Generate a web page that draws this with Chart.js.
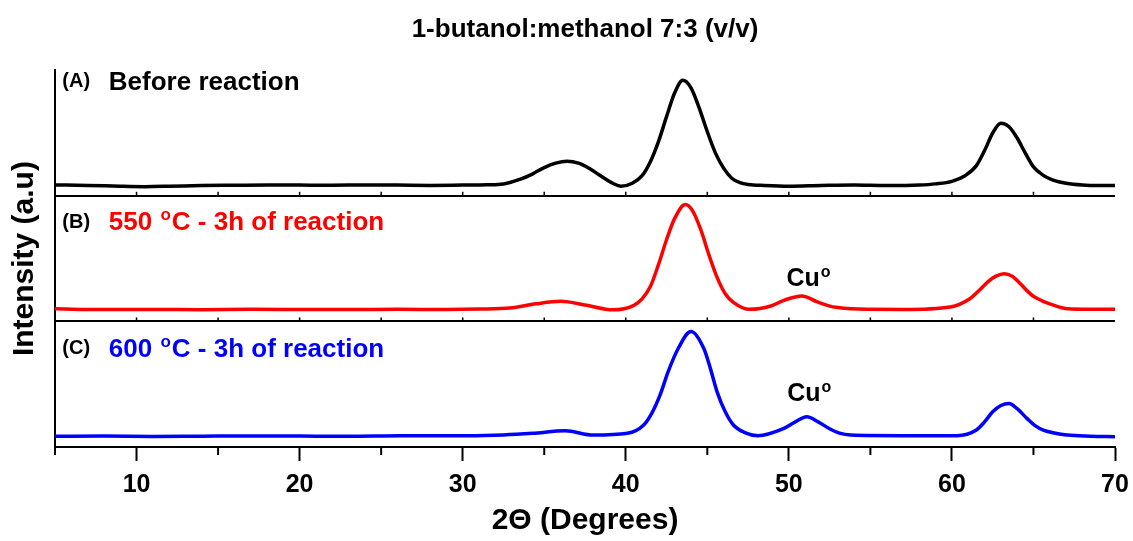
<!DOCTYPE html>
<html>
<head>
<meta charset="utf-8">
<title>XRD 1-butanol:methanol</title>
<script src="https://cdn.jsdelivr.net/npm/chart.js@4/dist/chart.umd.min.js"></script>
<style>
  html, body { margin: 0; padding: 0; background: #fff; }
  #wrap { width: 1133px; height: 541px; position: relative; }
</style>
</head>
<body>
<div id="wrap"><canvas id="xrdChart"></canvas></div>
<script>
// 2-theta positions and intensities (a.u., 0-100 within each panel)
const thetaA = [5, 7, 9, 10.5, 12, 14, 16, 18, 20, 22, 24, 26, 28, 30, 31.5, 32.5, 33.5, 34.3, 35, 35.7,
  36.4, 37.1, 37.8, 38.5, 39.2, 39.7, 40.4, 41, 41.5, 42, 42.5, 43, 43.5, 44, 44.5, 45, 45.5, 46, 46.5, 47, 47.5,
  48.5, 50, 52, 54, 56, 58, 59, 60, 60.8, 61.5, 62, 62.5, 63, 63.5, 64, 64.5, 65, 65.6, 66.2, 67, 68, 69, 70];
const intensityA = [8.6, 8.3, 7.6, 7.3, 7.6, 8.2, 8.4, 8.6, 8.5, 8.4, 8.6, 8.5, 8.3, 8.5, 8.7, 9.4, 13, 17.5, 22.5, 26,
  27.5, 26, 21.5, 15.5, 10, 7.6, 10, 16, 27, 43, 63, 82, 92, 86, 70, 51, 34, 22, 14, 10.5, 9,
  8.2, 7.6, 8.2, 8.6, 8.2, 8.6, 9.5, 11.5, 16, 24, 36, 50, 57.8, 55, 46, 34, 23, 16.3, 12.5, 10, 8.6, 8.2, 8.2];

const thetaB = [5, 8, 11, 14, 17, 20, 23, 26, 29, 31, 32.9, 34.5, 36, 37.6, 39.2, 40.5, 41, 41.5, 42, 42.5,
  43, 43.65, 44.1, 44.6, 45.1, 45.6, 46.1, 46.6, 47.6, 48.9, 49.7, 50.8, 51.75, 52.4, 53, 54.8, 57, 59.9, 61.1, 61.7, 62.2,
  62.7, 63.2, 63.7, 64.2, 64.6, 65, 65.5, 66, 67.1, 68.5, 70];
const intensityB = [10, 9.4, 9.5, 9.3, 9.6, 9.5, 9.4, 9.6, 9.5, 9.8, 10.6, 14, 16, 12.8, 9.2, 12.8, 18, 27.5, 45, 65,
  82, 93, 88, 73, 53, 35, 22, 15.2, 9.6, 12.3, 16.8, 20.3, 15.5, 12.6, 11, 9.6, 9.5, 11.5, 18.1, 25, 31.5,
  36, 38, 36, 30, 24.5, 20, 16.6, 14, 10, 9.6, 9.6];

const thetaC = [5, 8, 11, 14, 17, 20, 23, 26.2, 30.3, 32.5, 34.3, 36.3, 38, 40.1, 41.1, 41.6, 42.1, 42.6, 43.2, 44,
  44.8, 45.2, 45.6, 46.1, 46.6, 47.3, 48.1, 49.7, 50.4, 51.1, 51.8, 52.5, 53.1, 53.8, 57, 60.3, 61.5, 62, 62.5, 63, 63.5, 64, 64.6,
  65.1, 65.6, 67.1, 68.5, 70];
const intensityC = [8.6, 8.7, 8.4, 8.6, 8.8, 8.7, 8.6, 9, 9, 9.6, 10.9, 12.9, 9.5, 10.9, 17.5, 27, 41.3, 60, 78, 92,
  78, 62, 43.9, 28, 17.5, 11.5, 9, 14.8, 20, 24, 20, 14.5, 11, 9.5, 9, 9, 13.5, 20, 28, 33, 34.7, 30.5, 22.8,
  17, 13.5, 9.5, 8.6, 8.2];

const xTicks = [10, 20, 30, 40, 50, 60, 70];

const FONT = "'Liberation Sans', Arial, Helvetica, sans-serif";

function toPoints(xs, ys) {
  return xs.map((x, i) => ({ x: x, y: ys[i] }));
}

// text drawn on the panels
const notes = [
  { axis: "yA", x: 5.45, y: 92, size: 20, color: "#000", parts: ["(A)"] },
  { axis: "yA", x: 8.3, y: 92, size: 26, color: "#000", parts: ["Before reaction"] },
  { axis: "yB", x: 5.45, y: 80, size: 20, color: "#000", parts: ["(B)"] },
  { axis: "yB", x: 8.3, y: 80, size: 26, color: "#ff0000", parts: ["550 ", { sup: "o" }, "C - 3h of reaction"] },
  { axis: "yB", x: 49.85, y: 35, size: 25, color: "#000", parts: ["Cu", { sup: "o" }] },
  { axis: "yC", x: 5.45, y: 79.4, size: 20, color: "#000", parts: ["(C)"] },
  { axis: "yC", x: 8.3, y: 79.4, size: 26, color: "#0000ff", parts: ["600 ", { sup: "o" }, "C - 3h of reaction"] },
  { axis: "yC", x: 49.9, y: 43.7, size: 25, color: "#000", parts: ["Cu", { sup: "o" }] },
];

const notesPlugin = {
  id: "panelNotes",
  afterDraw(chart) {
    const ctx = chart.ctx;
    const xs = chart.scales.x;
    ctx.save();

    // minor ticks under the x axis and small ticks on the panel dividers
    ctx.strokeStyle = "#000";
    ctx.lineWidth = 2;
    const axisY = xs.top;
    for (let v = 5; v < 70; v += 10) {
      const px = xs.getPixelForValue(v);
      ctx.beginPath();
      ctx.moveTo(px, axisY);
      ctx.lineTo(px, axisY + 8);
      ctx.stroke();
    }
    ctx.lineWidth = 1.5;
    ["yB", "yC"].forEach((id) => {
      const yPix = chart.scales[id].getPixelForValue(100);
      for (let v = 10; v < 70; v += 5) {
        const px = xs.getPixelForValue(v);
        ctx.beginPath();
        ctx.moveTo(px, yPix);
        ctx.lineTo(px, yPix - 4);
        ctx.stroke();
      }
    });

    ctx.textBaseline = "alphabetic";
    ctx.textAlign = "left";
    notes.forEach((n) => {
      let px = xs.getPixelForValue(n.x);
      const cy = chart.scales[n.axis].getPixelForValue(n.y);
      const base = cy + n.size * 0.36;
      ctx.fillStyle = n.color;
      n.parts.forEach((p) => {
        if (typeof p === "string") {
          ctx.font = "bold " + n.size + "px " + FONT;
          ctx.fillText(p, px, base);
          px += ctx.measureText(p).width;
        } else {
          const s = Math.round(n.size * 0.64);
          ctx.font = "bold " + s + "px " + FONT;
          ctx.fillText(p.sup, px + 1, base - n.size * 0.38);
          px += ctx.measureText(p.sup).width + 2;
        }
      });
    });

    // y axis title, spanning all three panels
    const area = chart.chartArea;
    ctx.translate(25, (area.top + area.bottom) / 2);
    ctx.rotate(-Math.PI / 2);
    ctx.font = "bold 30px " + FONT;
    ctx.fillStyle = "#000";
    ctx.textAlign = "center";
    ctx.textBaseline = "middle";
    ctx.fillText("Intensity (a.u)", 0, 0);
    ctx.restore();
  },
};

function panelScale(weight, divider) {
  return {
    type: "linear",
    position: "left",
    stack: "xrd",
    stackWeight: 1,
    weight: weight,
    min: 0,
    max: 100,
    ticks: { display: false, stepSize: 100 },
    grid: {
      drawTicks: false,
      lineWidth: 2,
      color: (c) => (divider && c.tick && c.tick.value === 100 ? "#000" : "rgba(0,0,0,0)"),
    },
    border: { color: "#000", width: 2 },
    afterFit: (s) => {
      s.width = 55;
    },
  };
}

const ctx = document.getElementById("xrdChart").getContext("2d");
new Chart(ctx, {
  type: "line",
  data: {
    datasets: [
      { label: "Before reaction", data: toPoints(thetaA, intensityA), borderColor: "#000000", yAxisID: "yA" },
      { label: "550 oC - 3h of reaction", data: toPoints(thetaB, intensityB), borderColor: "#ff0000", yAxisID: "yB" },
      { label: "600 oC - 3h of reaction", data: toPoints(thetaC, intensityC), borderColor: "#0000ff", yAxisID: "yC" },
    ],
  },
  options: {
    responsive: true,
    maintainAspectRatio: false,
    animation: false,
    layout: { padding: { left: 0, right: 18, top: 0, bottom: 0 } },
    elements: {
      point: { radius: 0 },
      line: { borderWidth: 3.5, cubicInterpolationMode: "monotone", borderJoinStyle: "round" },
    },
    plugins: {
      legend: { display: false },
      tooltip: { enabled: false },
      title: {
        display: true,
        fullSize: false,
        text: "1-butanol:methanol 7:3 (v/v)",
        color: "#000",
        font: { family: FONT, size: 26, weight: "bold" },
        padding: { top: 14, bottom: 25 },
      },
    },
    scales: {
      x: {
        type: "linear",
        position: "bottom",
        min: 5,
        max: 70,
        afterBuildTicks: (s) => {
          s.ticks = xTicks.map((v) => ({ value: v }));
        },
        ticks: {
          autoSkip: false,
          maxRotation: 0,
          padding: 9,
          color: "#000",
          font: { family: FONT, size: 25, weight: "bold" },
        },
        grid: { drawOnChartArea: false, tickLength: 14, tickWidth: 2, tickColor: "#000" },
        border: { color: "#000", width: 2 },
        title: {
          display: true,
          text: "2\u0398 (Degrees)",
          color: "#000",
          font: { family: FONT, size: 30, weight: "bold" },
          padding: { top: 2, bottom: 2 },
        },
        afterFit: (s) => {
          // the "70" label may run into the right margin
          s.height = 94;
          s.paddingLeft = 0;
          s.paddingRight = 0;
        },
      },
      yC: panelScale(1, true),
      yB: panelScale(2, true),
      yA: panelScale(3, false),
    },
  },
  plugins: [notesPlugin],
});
</script>
</body>
</html>
